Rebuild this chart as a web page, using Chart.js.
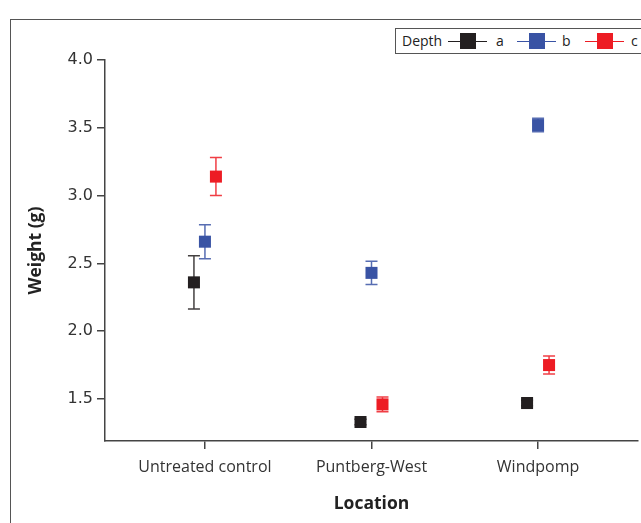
<!DOCTYPE html>
<html lang="en">
<head>
<meta charset="UTF-8">
<title>Weight by location</title>
<script src="https://cdn.jsdelivr.net/npm/chart.js@4.4.0/dist/chart.umd.min.js"></script>
<style>
    body { margin: 0; overflow: hidden; background: #fff; font-family: "Open Sans", sans-serif; }
    #wrap { position: relative; width: 641px; height: 523px; overflow: hidden; }
    #frame { position: absolute; left: 10px; top: 19px; width: 700px; height: 600px;
             border-left: 1px solid #555; border-top: 1px solid #555; }
    #myChart { position: absolute; left: 0; top: 0; }
    #legend { position: absolute; left: 395px; top: 28px; width: 260px; height: 24px;
              border: 1px solid #555; background: #fff; font-size: 14px; color: #222; }
    #legend span { position: absolute; top: 2px; }
    #legend .ln { position: absolute; top: 12px; height: 1px; width: 39px; }
    #legend .sq { position: absolute; top: 4px; width: 16px; height: 16px; }
</style>
</head>
<body>
<div id="wrap">
    <div id="frame"></div>
    <canvas id="myChart" width="641" height="523"></canvas>
    <div id="legend"><span style="left:6px">Depth</span></div>
</div>
<script>
    // 데이터
    const categories = ['Untreated control', 'Puntberg-West', 'Windpomp'];
    const depthLabels = ['a', 'b', 'c'];
    const weightA = [2.36, 1.33, 1.47];
    const weightB = [2.66, 2.43, 3.52];
    const weightC = [3.14, 1.46, 1.75];
    const errA = [0.197, 0.02, 0.02];
    const errB = [0.125, 0.085, 0.05];
    const errC = [0.14, 0.055, 0.066];
    const yTicks = [1.5, 2.0, 2.5, 3.0, 3.5, 4.0];

    const colors = ['#231f20', '#3953a4', '#ed1c24'];
    const offsets = [-0.066, 0, 0.066];
    const series = [weightA, weightB, weightC];
    const errors = [errA, errB, errC];

    const datasets = series.map(function(vals, i) {
        return {
            label: depthLabels[i],
            data: vals.map(function(v, j) { return { x: j + offsets[i], y: v }; }),
            errors: errors[i],
            backgroundColor: colors[i],
            borderColor: colors[i],
            borderWidth: 0,
            pointStyle: 'rect',
            pointRadius: 8.5,
            pointHoverRadius: 8.5
        };
    });

    // 에러바 그리기
    const errorBars = {
        id: 'errorBars',
        beforeDatasetsDraw(chart) {
            const ctx = chart.ctx;
            const ys = chart.scales.y;
            chart.data.datasets.forEach(function(ds, i) {
                const meta = chart.getDatasetMeta(i);
                ctx.save();
                ctx.strokeStyle = ds.borderColor;
                ctx.globalAlpha = 0.85;
                ctx.lineWidth = 1.5;
                meta.data.forEach(function(pt, j) {
                    const v = ds.data[j].y, e = ds.errors[j];
                    const hi = ys.getPixelForValue(v + e), lo = ys.getPixelForValue(v - e);
                    ctx.beginPath();
                    ctx.moveTo(pt.x, hi); ctx.lineTo(pt.x, lo);
                    ctx.moveTo(pt.x - 6, hi); ctx.lineTo(pt.x + 6, hi);
                    ctx.moveTo(pt.x - 6, lo); ctx.lineTo(pt.x + 6, lo);
                    ctx.stroke();
                });
                ctx.restore();
            });
        }
    };

    const xTickFont = { family: 'Open Sans', size: 16 };
    const yTickFont = { family: 'DejaVu Sans', size: 16 };
    const titleFont = { family: 'Open Sans', size: 17.5, weight: 'bold' };

    const ctx = document.getElementById('myChart').getContext('2d');
    const myChart = new Chart(ctx, {
        type: 'scatter',
        data: { datasets: datasets },
        options: {
            responsive: false,
            animation: false,
            layout: { autoPadding: false, padding: { top: 60, right: 3, left: 0, bottom: 0 } },
            plugins: { legend: { display: false }, tooltip: { enabled: false } },
            scales: {
                x: {
                    type: 'linear',
                    min: -0.6, max: 2.6,
                    afterBuildTicks: function(s) { s.ticks = categories.map(function(c, i) { return { value: i }; }); },
                    afterFit: function(s) { s.height = 82; s.paddingLeft = 0; s.paddingRight = 0; },
                    ticks: { font: xTickFont, color: '#333', padding: 9, autoSkip: false, maxRotation: 0,
                             callback: function(v) { return categories[v]; } },
                    grid: { drawOnChartArea: false, tickLength: 8, color: '#444', lineWidth: 1.5 },
                    border: { color: '#444', width: 1.5 },
                    title: { display: true, text: 'Location', font: titleFont, color: '#222', padding: { top: 0, bottom: 8 } }
                },
                y: {
                    min: 1.19, max: 4.0,
                    afterBuildTicks: function(s) { s.ticks = yTicks.map(function(v) { return { value: v }; }); },
                    afterFit: function(s) { s.width = 105; },
                    ticks: { font: yTickFont, color: '#333', padding: 4,
                             callback: function(v) { return v.toFixed(1); } },
                    grid: { drawOnChartArea: false, tickLength: 8, color: '#444', lineWidth: 1.5 },
                    border: { color: '#444', width: 1.5 },
                    title: { display: true, text: 'Weight (g)', font: titleFont, color: '#222', padding: { top: 26, bottom: 0 } }
                }
            }
        },
        plugins: [errorBars]
    });

    // 범례 (Depth a b c)
    const legendPos = [[52, 100], [121, 166], [189, 235]];
    const legend = document.getElementById('legend');
    datasets.forEach(function(ds, i) {
        const p = legendPos[i];
        legend.insertAdjacentHTML('beforeend',
            '<div class="ln" style="left:' + p[0] + 'px;background:' + ds.borderColor + '"></div>' +
            '<div class="sq" style="left:' + (p[0] + 12) + 'px;background:' + ds.backgroundColor + '"></div>' +
            '<span style="left:' + p[1] + 'px">' + ds.label + '</span>');
    });
</script>
</body>
</html>
